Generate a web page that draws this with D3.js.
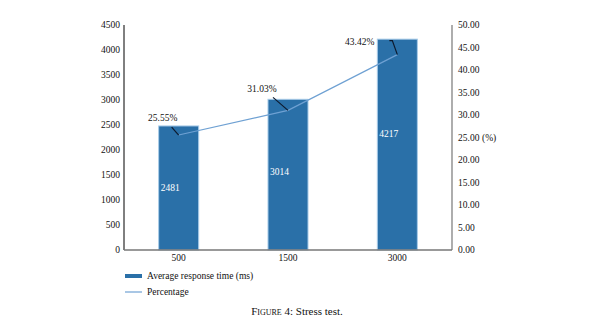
<!DOCTYPE html>
<html>
<head>
<meta charset="utf-8">
<script src="https://cdn.jsdelivr.net/npm/d3@7"></script>
<style>
  body { margin: 0; background: #fff; }
  text { font-family: "Liberation Serif", "DejaVu Serif", serif; fill: #111; }
</style>
</head>
<body>
<svg id="chart" width="600" height="323"></svg>
<script>
// data
const loads = ["500", "1500", "3000"];
const responseTimes = [2481, 3014, 4217];
const percentages = [25.55, 31.03, 43.42];
const leftTicks = [0, 500, 1000, 1500, 2000, 2500, 3000, 3500, 4000, 4500];
const rightTicks = [0, 5, 10, 15, 20, 25, 30, 35, 40, 45, 50];

const barColor = "#2a70a8";
const lineColor = "#6fa1d3";
const fs = "9.5px";

const svg = d3.select("#chart");
const plotLeft = 124, plotRight = 452, plotTop = 25, plotBottom = 250;

const x = d3.scaleBand()
  .domain(loads)
  .range([plotLeft, plotRight])
  .paddingInner(0.634)
  .paddingOuter(0.317);
const yL = d3.scaleLinear().domain([0, 4500]).range([plotBottom, plotTop]);
const yR = d3.scaleLinear().domain([0, 50]).range([plotBottom, plotTop]);

// axes lines
svg.append("line")
  .attr("x1", plotLeft).attr("x2", plotLeft)
  .attr("y1", plotTop).attr("y2", plotBottom)
  .attr("stroke", "#000").attr("stroke-width", 1);
svg.append("line")
  .attr("x1", plotRight).attr("x2", plotRight)
  .attr("y1", yR(50)).attr("y2", plotBottom)
  .attr("stroke", "#777").attr("stroke-width", 1.2);

// bars
svg.selectAll("rect.bar")
  .data(responseTimes)
  .enter().append("rect")
  .attr("class", "bar")
  .attr("x", (d, i) => x(loads[i]))
  .attr("y", d => yL(d))
  .attr("width", x.bandwidth())
  .attr("height", d => plotBottom - yL(d))
  .attr("fill", barColor)
  .attr("stroke", "#a8cbe8")
  .attr("stroke-width", 1);

svg.append("line")
  .attr("x1", plotLeft).attr("x2", plotRight)
  .attr("y1", plotBottom).attr("y2", plotBottom)
  .attr("stroke", "#777").attr("stroke-width", 1.5);

// left tick labels
svg.selectAll("text.ly")
  .data(leftTicks)
  .enter().append("text")
  .attr("class", "ly")
  .attr("x", plotLeft - 4)
  .attr("y", d => yL(d))
  .attr("dy", "0.35em")
  .attr("text-anchor", "end")
  .style("font-size", fs)
  .text(d => d);

// right tick labels
svg.selectAll("text.ry")
  .data(rightTicks)
  .enter().append("text")
  .attr("class", "ry")
  .attr("x", plotRight + 6)
  .attr("y", d => yR(d))
  .attr("dy", "0.35em")
  .style("font-size", fs)
  .text(d => d3.format(".2f")(d));

svg.append("text")
  .attr("x", plotRight + 30)
  .attr("y", yR(25))
  .attr("dy", "0.35em")
  .style("font-size", fs)
  .text("(%)");

// x labels
svg.selectAll("text.xl")
  .data(loads)
  .enter().append("text")
  .attr("class", "xl")
  .attr("x", d => x(d) + x.bandwidth() / 2)
  .attr("y", plotBottom + 8)
  .attr("dy", "0.35em")
  .attr("text-anchor", "middle")
  .style("font-size", fs)
  .text(d => d);

// bar value labels
svg.selectAll("text.val")
  .data(responseTimes)
  .enter().append("text")
  .attr("class", "val")
  .attr("x", (d, i) => x(loads[i]) + 2)
  .attr("y", d => (yL(d) + plotBottom) / 2 - (d - 2481) * 0.006)
  .attr("dy", "0.35em")
  .style("font-size", fs)
  .style("fill", "#fff")
  .text(d => d);

// percentage line
const line = d3.line()
  .x((d, i) => x(loads[i]) + x.bandwidth() / 2)
  .y(d => yR(d));
svg.append("path")
  .datum(percentages)
  .attr("d", line)
  .attr("fill", "none")
  .attr("stroke", lineColor)
  .attr("stroke-width", 1.2);

// leader lines + labels (offsets relative to the point)
const leaders = [
  [[-7, -8], [0, 0]],
  [[-15, -13], [0, 0]],
  [[-8, -14], [-5, -14], [0, 0]]
];
const labelAnchor = [
  { dx: -16, dy: -17, anchor: "middle" },
  { dx: -26, dy: -22, anchor: "middle" },
  { dx: -23, dy: -13, anchor: "end" }
];
percentages.forEach((p, i) => {
  const cx = x(loads[i]) + x.bandwidth() / 2;
  const cy = yR(p);
  svg.append("path")
    .attr("d", d3.line()(leaders[i].map(o => [cx + o[0], cy + o[1]])))
    .attr("fill", "none")
    .attr("stroke", "#0d1a2e")
    .attr("stroke-width", 1.2);
  svg.append("text")
    .attr("x", cx + labelAnchor[i].dx)
    .attr("y", cy + labelAnchor[i].dy)
    .attr("dy", "0.35em")
    .attr("text-anchor", labelAnchor[i].anchor)
    .style("font-size", fs)
    .text(d3.format(".2f")(p) + "%");
});

// legend
const lg = svg.append("g").attr("transform", "translate(125,276)");
lg.append("rect")
  .attr("x", 0).attr("y", -2)
  .attr("width", 17).attr("height", 4)
  .attr("fill", barColor);
lg.append("text")
  .attr("x", 22).attr("y", 0).attr("dy", "0.35em")
  .style("font-size", fs)
  .text("Average response time (ms)");
lg.append("line")
  .attr("x1", 0).attr("x2", 17)
  .attr("y1", 16).attr("y2", 16)
  .attr("stroke", lineColor).attr("stroke-width", 1.2);
lg.append("text")
  .attr("x", 22).attr("y", 16).attr("dy", "0.35em")
  .style("font-size", fs)
  .text("Percentage");

// caption
const cap = svg.append("text")
  .attr("x", 297)
  .attr("y", 315)
  .attr("text-anchor", "middle")
  .style("font-size", "11px");
cap.append("tspan").style("font-variant", "small-caps").text("Figure 4");
cap.append("tspan").text(": Stress test.");
</script>
</body>
</html>
